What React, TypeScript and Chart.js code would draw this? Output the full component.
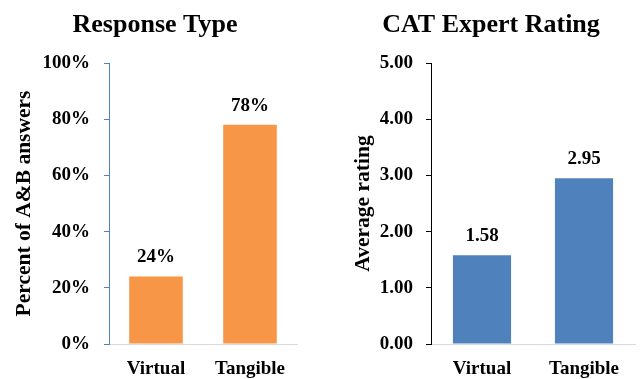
import React, { useEffect, useRef } from "react";
import { Chart, registerables } from "chart.js";

Chart.register(...registerables);

// Data
const categories = ["Virtual", "Tangible"];
const responseValues = [24, 78];
const ratingValues = [1.58, 2.95];
const responseTicks = [0, 20, 40, 60, 80, 100];
const ratingTicks = [0, 1, 2, 3, 4, 5];

const FONT = "'Liberation Serif', 'Times New Roman', serif";

type PanelCfg = {
  title: string;
  titleX: number;
  yTitle: string;
  yTitlePad: number;
  values: number[];
  ticks: number[];
  fmt: (v: number) => string;
  barColor: string;
  yAxisColor: string;
  yWidth: number;
  padRight: number;
  tickPad: number;
  width: number;
};

// Heading drawn at a fixed horizontal centre above the plot
const headingPlugin = {
  id: "heading",
  afterDraw(chart: any, _args: any, opts: any) {
    const ctx = chart.ctx;
    ctx.save();
    ctx.font = `bold 26px ${FONT}`;
    ctx.fillStyle = "#000";
    ctx.textAlign = "center";
    ctx.textBaseline = "alphabetic";
    ctx.fillText(opts.text, opts.x, 32);
    ctx.restore();
  },
};

// Value labels above each bar
const valueLabelPlugin = {
  id: "valueLabels",
  afterDatasetsDraw(chart: any, _args: any, opts: any) {
    const ctx = chart.ctx;
    ctx.save();
    ctx.font = `bold 19px ${FONT}`;
    ctx.fillStyle = "#000";
    ctx.textAlign = "center";
    ctx.textBaseline = "middle";
    chart.data.datasets.forEach((ds: any, di: number) => {
      chart.getDatasetMeta(di).data.forEach((bar: any, i: number) => {
        ctx.fillText(opts.fmt(ds.data[i]), bar.x, bar.y - 19);
      });
    });
    ctx.restore();
  },
};

function Panel({ cfg }: { cfg: PanelCfg }) {
  const ref = useRef<HTMLCanvasElement | null>(null);
  useEffect(() => {
    if (!ref.current) return;
    const chart = new Chart(ref.current, {
      type: "bar",
      data: {
        labels: categories,
        datasets: [
          {
            data: cfg.values,
            backgroundColor: cfg.barColor,
            categoryPercentage: 1,
            barPercentage: 0.57,
          },
        ],
      },
      options: {
        responsive: false,
        animation: false,
        devicePixelRatio: 1,
        layout: { padding: { top: 63, right: cfg.padRight, bottom: 0, left: 0 } },
        plugins: {
          legend: { display: false },
          tooltip: { enabled: false },
          title: { display: false },
          heading: { text: cfg.title, x: cfg.titleX },
          valueLabels: { fmt: cfg.fmt },
        } as any,
        scales: {
          x: {
            grid: { display: false, drawTicks: false },
            border: { display: true, color: "#D9D9D9", width: 1 },
            ticks: {
              color: "#000",
              padding: 14,
              font: { family: FONT, size: 19, weight: "bold" },
            },
            afterFit(scale: any) {
              scale.height = 35;
            },
          },
          y: {
            min: cfg.ticks[0],
            max: cfg.ticks[cfg.ticks.length - 1],
            afterBuildTicks(scale: any) {
              scale.ticks = cfg.ticks.map((v) => ({ value: v }));
            },
            grid: {
              drawOnChartArea: false,
              drawTicks: true,
              tickLength: 5,
              tickColor: cfg.yAxisColor,
            },
            border: { display: true, color: cfg.yAxisColor, width: 1 },
            ticks: {
              color: "#000",
              padding: cfg.tickPad,
              font: { family: FONT, size: 19, weight: "bold" },
              callback: (v: any) => cfg.fmt(Number(v)),
            },
            title: {
              display: true,
              text: cfg.yTitle,
              color: "#000",
              padding: { top: cfg.yTitlePad, bottom: 0 },
              font: { family: FONT, size: 21.5, weight: "bold" },
            },
            afterFit(scale: any) {
              scale.width = cfg.yWidth;
            },
          },
        },
      },
      plugins: [headingPlugin, valueLabelPlugin],
    });
    return () => chart.destroy();
  }, [cfg]);
  return <canvas ref={ref} width={cfg.width} height={379} style={{ display: "block" }} />;
}

const leftCfg: PanelCfg = {
  title: "Response Type",
  titleX: 155,
  yTitle: "Percent of A&B answers",
  yTitlePad: 12,
  values: responseValues,
  ticks: responseTicks,
  fmt: (v) => `${Math.round(v)}%`,
  barColor: "#F79646",
  yAxisColor: "#4F81BD",
  yWidth: 109,
  padRight: 23,
  tickPad: 14,
  width: 320,
};

const rightCfg: PanelCfg = {
  title: "CAT Expert Rating",
  titleX: 171,
  yTitle: "Average rating",
  yTitlePad: 31,
  values: ratingValues,
  ticks: ratingTicks,
  fmt: (v) => v.toFixed(2),
  barColor: "#4F81BD",
  yAxisColor: "#000000",
  yWidth: 111,
  padRight: 6,
  tickPad: 13,
  width: 321,
};

export default function App() {
  return (
    <div
      style={{
        position: "absolute",
        left: 0,
        top: 0,
        width: 641,
        height: 379,
        background: "#fff",
        overflow: "hidden",
      }}
    >
      <div style={{ position: "absolute", left: 0, top: 0 }}>
        <Panel cfg={leftCfg} />
      </div>
      <div style={{ position: "absolute", left: 320, top: 0 }}>
        <Panel cfg={rightCfg} />
      </div>
    </div>
  );
}
